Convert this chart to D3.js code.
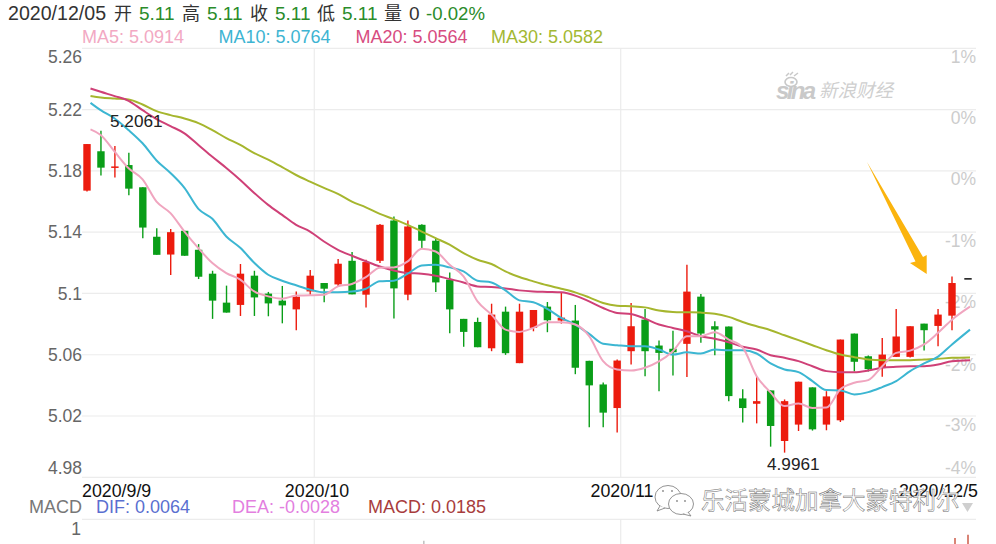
<!DOCTYPE html>
<html><head><meta charset="utf-8">
<script src="https://cdn.jsdelivr.net/npm/d3@7"></script>
<style>
html,body{margin:0;padding:0;background:#fff;overflow:hidden}
svg{display:block}
text{font-family:"Liberation Sans",Arial,sans-serif}
</style></head><body><div id="c"></div>
<script>
const opens=[5.1671,5.1928,5.1822,5.1838,5.1693,5.1370,5.1254,5.1409,5.1285,5.1129,5.0940,5.0925,5.1116,5.0999,5.0953,5.0896,5.1013,5.1068,5.1059,5.1213,5.0992,5.1213,5.1476,5.0992,5.1448,5.1344,5.1090,5.0834,5.0814,5.0642,5.0881,5.0545,5.0775,5.0914,5.0823,5.0823,5.0560,5.0406,5.0252,5.0623,5.0829,5.0660,5.0639,5.0671,5.0979,5.0786,5.0784,5.0315,5.0280,5.0367,5.0037,5.0144,5.0387,5.0144,5.0172,5.0738,5.0590,5.0515,5.0586,5.0586,5.0803,5.0788,5.0855,5.11];
const closes=[5.1975,5.1821,5.1829,5.1684,5.1430,5.1252,5.1400,5.1246,5.1109,5.0953,5.0875,5.1129,5.0974,5.0935,5.0922,5.0979,5.1116,5.1031,5.1194,5.0994,5.1205,5.1448,5.1033,5.1437,5.1344,5.1072,5.0896,5.0749,5.0649,5.0862,5.0610,5.0881,5.0892,5.0825,5.0842,5.0515,5.0400,5.0222,5.0562,5.0786,5.0623,5.0612,5.0616,5.1012,5.0738,5.0764,5.0330,5.0252,5.0297,5.0135,5.0297,5.0424,5.0113,5.0328,5.0699,5.0554,5.0506,5.0601,5.0719,5.0786,5.0760,5.0862,5.1068,5.11];
const highs=[5.1975,5.2062,5.1962,5.1918,5.1693,5.1426,5.1420,5.1409,5.1322,5.1148,5.1051,5.1192,5.1148,5.1010,5.1049,5.1013,5.1153,5.1068,5.1224,5.1270,5.1220,5.1454,5.1502,5.1476,5.1452,5.1361,5.1137,5.0834,5.0842,5.0933,5.0914,5.0933,5.0892,5.0944,5.1003,5.0925,5.0560,5.0419,5.0569,5.0938,5.0899,5.0693,5.0756,5.1187,5.0997,5.0818,5.0784,5.0374,5.0456,5.0367,5.0308,5.0424,5.0387,5.0362,5.0699,5.0738,5.0595,5.0710,5.0899,5.0786,5.0803,5.0899,5.1111,5.11];
const lows=[5.1666,5.1769,5.1756,5.1641,5.1361,5.1252,5.1120,5.1246,5.1094,5.0834,5.0875,5.0853,5.0853,5.0851,5.0805,5.0760,5.0992,5.0942,5.1046,5.0994,5.0909,5.1198,5.0836,5.0955,5.1290,5.1010,5.0740,5.0652,5.0649,5.0623,5.0599,5.0545,5.0753,5.0747,5.0803,5.0473,5.0126,5.0126,5.0092,5.0536,5.0460,5.0361,5.0465,5.0454,5.0678,5.0597,5.0297,5.0157,5.0152,5.0000,4.9961,5.0102,5.0105,5.0107,5.0161,5.0491,5.0491,5.0456,5.0586,5.0582,5.0627,5.0655,5.0760,5.11];
const ma5=[5.2071,5.2034,5.1925,5.1817,5.1745,5.1599,5.1524,5.1404,5.1296,5.1198,5.1133,5.1090,5.1013,5.0981,5.0966,5.0986,5.0988,5.0992,5.1046,5.1062,5.1106,5.1168,5.1170,5.1209,5.1291,5.1274,5.1187,5.1111,5.0948,5.0862,5.0764,5.0749,5.0775,5.0812,5.0812,5.0797,5.0721,5.0558,5.0504,5.0497,5.0515,5.0556,5.0623,5.0721,5.0721,5.0747,5.0699,5.0647,5.0460,5.0354,5.0265,5.0282,5.0252,5.0255,5.0374,5.0417,5.0434,5.0525,5.0612,5.0627,5.0667,5.0743,5.0829,5.0914];
const ma10=[5.2244,5.2196,5.2142,5.2066,5.1980,5.1868,5.1786,5.1689,5.1552,5.1487,5.1372,5.1298,5.1200,5.1122,5.1083,5.1053,5.1025,5.1007,5.1007,5.1012,5.1031,5.1079,5.1083,5.1129,5.1183,5.1187,5.1170,5.1144,5.1083,5.1072,5.1020,5.0955,5.0942,5.0899,5.0840,5.0797,5.0736,5.0671,5.0662,5.0655,5.0655,5.0634,5.0601,5.0616,5.0608,5.0634,5.0629,5.0629,5.0608,5.0543,5.0504,5.0486,5.0428,5.0369,5.0367,5.0341,5.0356,5.0389,5.0428,5.0493,5.0543,5.0588,5.0667,5.0764];
const ma20=[5.2338,5.2316,5.2288,5.2257,5.2196,5.2138,5.2092,5.2045,5.1969,5.1892,5.1819,5.1741,5.1656,5.1578,5.1513,5.1448,5.1404,5.1339,5.1285,5.1246,5.1210,5.1176,5.1150,5.1133,5.1129,5.1116,5.1094,5.1072,5.1046,5.1042,5.1033,5.1020,5.1013,5.1010,5.1007,5.0986,5.0948,5.0905,5.0873,5.0866,5.0836,5.0797,5.0775,5.0753,5.0721,5.0704,5.0682,5.0652,5.0634,5.0597,5.0580,5.0558,5.0525,5.0493,5.0486,5.0486,5.0497,5.0515,5.0521,5.0524,5.0525,5.0536,5.0558,5.0564];
const ma30=[5.2289,5.2279,5.2272,5.2266,5.2233,5.2190,5.2164,5.2142,5.2112,5.2066,5.2014,5.1969,5.1916,5.1874,5.1825,5.1773,5.1730,5.1689,5.1650,5.1599,5.1562,5.1519,5.1485,5.1448,5.1404,5.1361,5.1318,5.1263,5.1220,5.1192,5.1144,5.1107,5.1079,5.1053,5.1031,5.1007,5.0974,5.0938,5.0920,5.0916,5.0909,5.0888,5.0879,5.0877,5.0875,5.0868,5.0847,5.0814,5.0786,5.0760,5.0727,5.0695,5.0662,5.0629,5.0601,5.0584,5.0569,5.0564,5.0564,5.0564,5.0569,5.0573,5.0580,5.0582];
const priceTicks=[5.26,5.22,5.18,5.14,5.10,5.06,5.02,4.98];
const priceLabels=["5.26","5.22","5.18","5.14","5.1","5.06","5.02","4.98"];
const pctLabels=["1%","0%","0%","-1%","-2%","-2%","-3%","-4%"];
const dateLabels=["2020/9/9","2020/10","2020/11","2020/12/5"];
const macdIndex=[24,62,63];
const macdValues=[0.47,0.54,0.62];

const W=996,H=544;
const svg=d3.select("#c").append("svg").attr("width",W).attr("height",H).attr("viewBox",`0 0 ${W} ${H}`);
const xC=d3.scaleLinear().domain([0,62,63]).range([87,952,968]);
const xL=d3.scaleLinear().domain([0,1,62,63]).range([90.5,100.7,952,970]);
const y=d3.scaleLinear().domain([4.98,5.26]).range([477.3,48.3]);
const yM=d3.scaleLinear().domain([0,1]).range([560,519.3]);
const left=82,right=976;
const GRID="#ececec";

// grid
svg.append("g").selectAll("line").data(priceTicks).join("line")
 .attr("x1",left).attr("x2",right).attr("y1",d=>y(d)).attr("y2",d=>y(d)).attr("stroke",GRID).attr("stroke-width",1.2);
svg.append("line").attr("x1",left).attr("x2",right).attr("y1",yM(1)).attr("y2",yM(1)).attr("stroke",GRID).attr("stroke-width",1.2);
[314.3,620.7].forEach(x=>{
 svg.append("line").attr("x1",x).attr("x2",x).attr("y1",48).attr("y2",477).attr("stroke",GRID).attr("stroke-width",1.2);
 svg.append("line").attr("x1",x).attr("x2",x).attr("y1",519).attr("y2",544).attr("stroke",GRID).attr("stroke-width",1.2);
});

// axes
const offsets=[8.5,0,0,0,0,0,0,-9.5];
const axL=svg.append("g").attr("transform",`translate(${left},0)`)
 .call(d3.axisLeft(y).tickValues(priceTicks).tickSize(0).tickPadding(0).tickFormat((d,i)=>priceLabels[i]));
axL.select(".domain").remove();
axL.selectAll("text").attr("font-size",17.5).attr("fill","#666").style("font-family",'"Liberation Sans"')
 .attr("transform",(d,i)=>`translate(0,${offsets[i]})`);
const offsetsR=[8.5,8.5,8.5,8.5,8.5,10,8.5,-9.5];
const axR=svg.append("g").attr("transform",`translate(${right},0)`)
 .call(d3.axisLeft(y).tickValues(priceTicks).tickSize(0).tickPadding(0).tickFormat((d,i)=>pctLabels[i]));
axR.select(".domain").remove();
axR.selectAll("text").attr("font-size",17.5).attr("fill","#ccc").style("font-family",'"Liberation Sans"')
 .attr("transform",(d,i)=>`translate(0,${offsetsR[i]})`);

// sina watermark
const wm=svg.append("g");
wm.append("text").attr("x",776).attr("y",99).attr("font-size",24).attr("font-weight",700).attr("font-style","italic").attr("fill","#c9c9c9").attr("textLength",40).text("sina");
wm.append("ellipse").attr("cx",791).attr("cy",82).attr("rx",6).attr("ry",4.5).attr("fill","none").attr("stroke","#c9c9c9").attr("stroke-width",1.6);
wm.append("path").attr("d","M786 76 L789 73 M790 75 L793 72 M794 76 L798 73").attr("stroke","#c9c9c9").attr("stroke-width",1.5);
wm.append("text").attr("x",819).attr("y",97).attr("font-size",18.5).attr("font-style","italic").attr("fill","#cfcfcf").style("font-family",'"Noto Sans CJK SC"').text("新浪财经");

// candles
const idx=d3.range(opens.length);
const colorOf=i=>closes[i]>opens[i]?"#ec1b0e":closes[i]<opens[i]?"#0a9e18":"#111";
const cg=svg.append("g");
cg.selectAll("line").data(idx.slice(0,-1)).join("line")
 .attr("x1",i=>xC(i)).attr("x2",i=>xC(i)).attr("y1",i=>y(highs[i])).attr("y2",i=>y(lows[i]))
 .attr("stroke",colorOf).attr("stroke-width",1.4);
cg.selectAll("rect").data(idx).join("rect")
 .attr("x",i=>xC(i)-3.7).attr("width",7.4)
 .attr("y",i=>y(Math.max(opens[i],closes[i])))
 .attr("height",i=>Math.max(1.5,Math.abs(y(opens[i])-y(closes[i]))))
 .attr("fill",colorOf);

// MA lines
const lineGen=d3.line().x((d,i)=>xL(i)).y(d=>y(d)).curve(d3.curveMonotoneX);
[[ma30,"#a6b62e"],[ma20,"#cf4077"],[ma10,"#3cb6d2"],[ma5,"#f0a5bf"]].forEach(([s,c])=>{
 svg.append("path").datum(s).attr("d",lineGen).attr("fill","none").attr("stroke",c).attr("stroke-width",2);
});

// extreme labels
svg.append("text").attr("x",110).attr("y",126.5).attr("font-size",17.2).attr("fill","#222").text(d3.format(".4f")(5.2061));
svg.append("text").attr("x",767).attr("y",469.5).attr("font-size",17.2).attr("fill","#222").text(d3.format(".4f")(4.9961));

// arrow
svg.append("polygon").attr("points","867,162 923,257 926.7,255 926.7,274 910,263 915.5,261.5").attr("fill","#fbb40e");

// header
const head=[["2020/12/05",8,"#333",19.6],["开",114,"#333",18],["5.11",139,"#2a8c2a",19],["高",182,"#333",18],["5.11",207,"#2a8c2a",19],["收",250,"#333",18],["5.11",275,"#2a8c2a",19],["低",317,"#333",18],["5.11",342,"#2a8c2a",19],["量",384,"#333",18],["0",409,"#333",19],["-0.02%",426,"#2a8c2a",18.6]];
svg.append("g").selectAll("text").data(head).join("text")
 .attr("x",d=>d[1]).attr("y",20).attr("fill",d=>d[2]).attr("font-size",d=>d[3])
 .style("font-family",d=>/[\u4e00-\u9fff]/.test(d[0])?'"Noto Sans CJK SC"':'"Liberation Sans"').text(d=>d[0]);

const maHead=[["MA5: 5.0914",82,"#f2a9c3"],["MA10: 5.0764",218.5,"#3db4d2"],["MA20: 5.0564",355.5,"#d74c80"],["MA30: 5.0582",491,"#a3b832"]];
svg.append("g").selectAll("text").data(maHead).join("text")
 .attr("x",d=>d[1]).attr("y",42.5).attr("fill",d=>d[2]).attr("font-size",18).text(d=>d[0]);

// date axis labels
const anchors=["start","middle","middle","end"];
const dateX=[82,317,622,978];
svg.append("g").selectAll("text").data(dateLabels).join("text")
 .attr("x",(d,i)=>dateX[i]).attr("y",497).attr("text-anchor",(d,i)=>anchors[i]).attr("font-size",17.8).attr("fill","#111").text(d=>d);

// MACD row
const macdHead=[["MACD",29,"#777"],["DIF: 0.0064",96,"#5a6fd0"],["DEA: -0.0028",232,"#e37fdf"],["MACD: 0.0185",368,"#a83c3c"]];
svg.append("g").selectAll("text").data(macdHead).join("text")
 .attr("x",d=>d[1]).attr("y",513).attr("fill",d=>d[2]).attr("font-size",18).text(d=>d[0]);
svg.append("text").attr("x",81).attr("y",535).attr("text-anchor","end").attr("font-size",17.5).attr("fill","#666").text("1");
svg.append("g").selectAll("line").data(macdIndex).join("line")
 .attr("x1",i=>xC(i)+(i===62?3:i===24?2:0)).attr("x2",i=>xC(i)+(i===62?3:i===24?2:0))
 .attr("y1",(i,k)=>yM(macdValues[k])).attr("y2",H).attr("stroke",(i,k)=>k?"#c9503c":"#bbb").attr("stroke-width",1.4);

// wechat watermark
svg.append("polygon").attr("points","962,503 973,503 967.5,512").attr("fill","#cfcfcf");
const wx=svg.append("g").attr("fill","#fff").attr("stroke","#888").attr("stroke-width",.9);
wx.append("ellipse").attr("cx",668).attr("cy",497).attr("rx",13).attr("ry",11.5);
wx.append("path").attr("d","M660 506 L657 511 L665 508");
wx.append("ellipse").attr("cx",681).attr("cy",504).attr("rx",12.5).attr("ry",10.5);
wx.append("path").attr("d","M688 512 L691 516 L683 514");
svg.append("g").attr("fill","#888").selectAll("circle").data([[663,491],[672,491],[677,501],[685,501]]).join("circle")
 .attr("cx",d=>d[0]).attr("cy",d=>d[1]).attr("r",.9);
svg.append("text").attr("x",701).attr("y",509).attr("font-size",23.5).attr("fill","#fff").attr("stroke","#6f6f6f").attr("stroke-width",.5)
 .style("font-family",'"Noto Sans CJK SC"').text("乐活蒙城加拿大蒙特利尔");
</script></body></html>
